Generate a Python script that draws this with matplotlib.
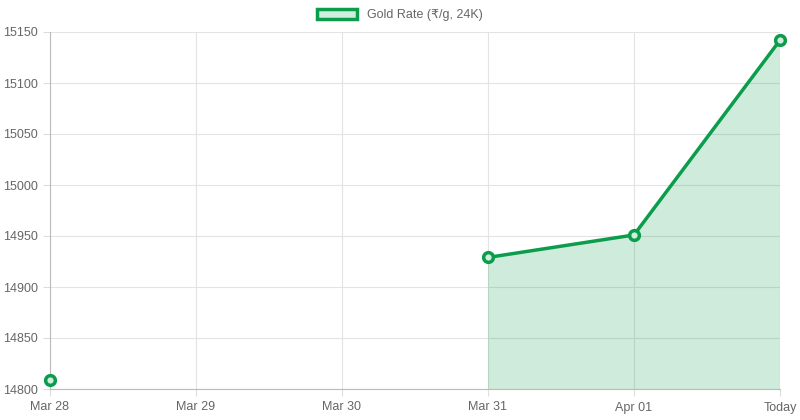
import numpy as np
import matplotlib.pyplot as plt

plt.rcParams['font.family'] = ['Liberation Sans', 'DejaVu Sans']

labels = ['Mar 28', 'Mar 29', 'Mar 30', 'Mar 31', 'Apr 01', 'Today']
rates = [14809, np.nan, np.nan, 14929, 14951, 15142]

green = '#0b9d4c'
x = np.arange(len(labels))
y = np.array(rates, dtype=float)

fig = plt.figure(figsize=(8, 4.2), dpi=100)
ax = fig.add_axes([50 / 800, 1 - 389 / 420, 730 / 800, 357 / 420])

# fill only the continuous run (gaps are not spanned)
mask = ~np.isnan(y)
ax.fill_between(x, y, 14800, where=mask & np.roll(mask, 1) | mask & np.roll(mask, -1),
                color=green, alpha=0.2, linewidth=0, interpolate=False)
ax.plot(x, y, color=green, lw=2.5, marker='o', ms=7, mfc='#cfeedd', mec=green, mew=2.5,
        clip_on=False, zorder=3, label='Gold Rate (₹/g, 24K)')

ax.set_xlim(0, len(labels) - 1)
ax.set_ylim(14800, 15150)
ax.set_xticks(x, labels)
ax.set_yticks(np.arange(14800, 15151, 50))
ax.grid(True, color='#e3e3e3', lw=0.8)
ax.set_axisbelow(True)
for s in ['top', 'right']:
    ax.spines[s].set_visible(False)
for s in ['left', 'bottom']:
    ax.spines[s].set_color('#bbbbbb')
ax.tick_params(colors='#666666', labelsize=9, length=5, color='#dddddd')
ax.tick_params(axis='x', pad=4)

from matplotlib.patches import Patch
h = Patch(facecolor='#cfeedd', edgecolor=green, lw=2.5, label='Gold Rate (₹/g, 24K)')
leg = fig.legend(handles=[h], loc='upper center', bbox_to_anchor=(0.5, 1.0), frameon=False,
                 fontsize=9, handlelength=3.2, handleheight=0.9, borderaxespad=0.3)
for t in leg.get_texts():
    t.set_color('#666666')

fig.savefig('out.png', dpi=100)
